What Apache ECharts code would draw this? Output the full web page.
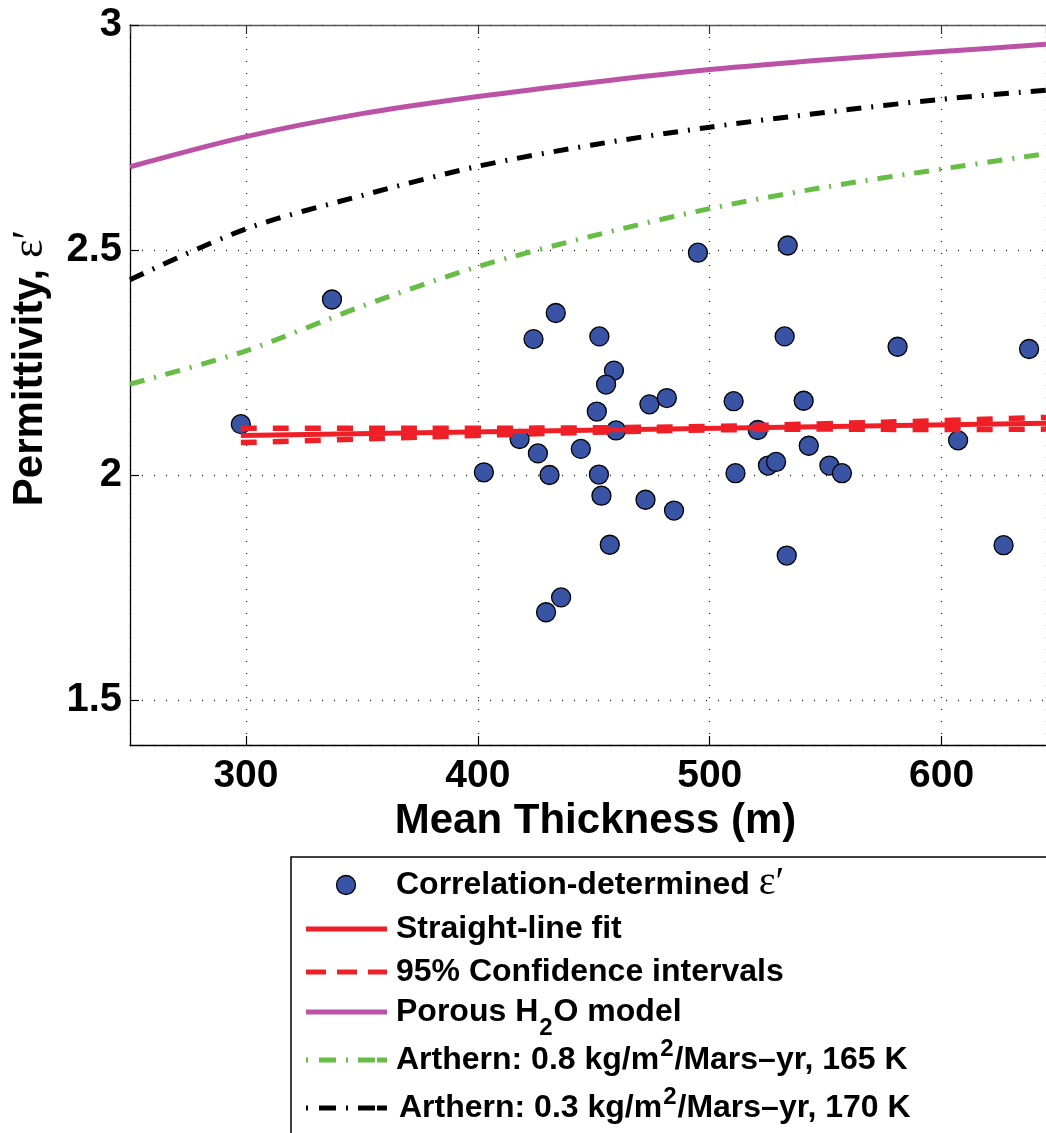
<!DOCTYPE html>
<html>
<head>
<meta charset="utf-8">
<script src="https://cdn.jsdelivr.net/npm/echarts@6/dist/echarts.min.js"></script>
<style>
html,body{margin:0;padding:0;background:#fff;}
#chart{width:1046px;height:1133px;}
</style>
</head>
<body>
<div id="chart"></div>
<script>
// ---- data ----
const thickness = [297.8, 337.1, 402.6, 424.0, 433.6, 452.4, 458.7, 455.3, 451.3, 474.0,
  481.5, 510.3, 540.5, 532.3, 494.9, 533.6, 581.0, 637.7, 459.6, 520.7,
  542.7, 607.1, 418.0, 425.9, 444.4, 430.9, 452.2, 453.3, 472.3, 484.6,
  511.1, 525.1, 528.6, 551.6, 557.0, 456.9, 533.2, 626.7, 435.9, 429.4];
const permittivity = [2.113, 2.390, 2.006, 2.302, 2.360, 2.308, 2.232, 2.201, 2.141, 2.157,
  2.171, 2.164, 2.165, 2.308, 2.494, 2.510, 2.285, 2.280, 2.099, 2.100,
  2.065, 2.077, 2.080, 2.048, 2.058, 2.000, 2.001, 1.954, 1.945, 1.921,
  2.004, 2.021, 2.029, 2.021, 2.004, 1.845, 1.821, 1.844, 1.728, 1.695];

const fitX = [297.8, 645];
const fitY = [2.088, 2.115];

const ciX = [297.8, 350, 400, 450, 500, 550, 600, 645];
const ciUpper = [2.104, 2.104, 2.104, 2.105, 2.108, 2.114, 2.121, 2.128];
const ciLower = [2.072, 2.080, 2.088, 2.095, 2.100, 2.102, 2.101, 2.102];

const modelX = [250, 300, 350, 400, 450, 500, 550, 600, 645];
const porousY = [2.685, 2.752, 2.803, 2.841, 2.873, 2.901, 2.923, 2.941, 2.957];
const arthern08Y = [2.202, 2.276, 2.375, 2.463, 2.532, 2.592, 2.640, 2.680, 2.714];
const arthern03Y = [2.434, 2.547, 2.621, 2.686, 2.734, 2.773, 2.806, 2.835, 2.855];

const xTicks = [300, 400, 500, 600];
const yTicks = [1.5, 2, 2.5, 3];

const legendLabels = [
  ['Correlation-determined '],
  ['Straight-line fit'],
  ['95% Confidence intervals'],
  ['Porous H', '2', 'O model'],
  ['Arthern: 0.8 kg/m', '2', '/Mars\u2013yr, 165 K'],
  ['Arthern: 0.3 kg/m', '2', '/Mars\u2013yr, 170 K']
];

// ---- styling ----
const RED = '#ee1f26', PURPLE = '#bb52a6', GREEN = '#67bd45', BLUE = '#3a54a5';
const DASHDOT = [15, 10, 2, 10];
const SANS = 'Liberation Sans';

const zip = (xs, ys) => xs.map((x, i) => [x, ys[i]]);

const chart = echarts.init(document.getElementById('chart'), null, {renderer: 'canvas'});

// ---- legend built with graphic elements ----
const mctx = document.createElement('canvas').getContext('2d');
function tw(str, size, weight, family) {
  mctx.font = weight + ' ' + size + 'px "' + family + '"';
  return mctx.measureText(str).width;
}
const LX = 291, LY = 857;
const rowY = [885, 929, 972, 1012, 1060, 1108];
const textX = [396, 396, 396, 396, 396, 399];
const FS = 32;
const g = [];
g.push({type: 'rect', shape: {x: LX, y: LY, width: 900, height: 400},
  style: {fill: '#fff', stroke: '#000', lineWidth: 1.5}, z: 10});
function sample(i, color, dash, width) {
  g.push({type: 'line', shape: {x1: 306, y1: rowY[i], x2: 387, y2: rowY[i]},
    style: {stroke: color, lineWidth: width, lineDash: dash || null, lineCap: 'butt'}, z: 11});
}
g.push({type: 'circle', shape: {cx: 346, cy: rowY[0], r: 9.5},
  style: {fill: BLUE, stroke: '#000', lineWidth: 1.3}, z: 11});
sample(1, RED, null, 5);
sample(2, RED, [20, 11], 5);
sample(3, PURPLE, null, 5);
sample(4, GREEN, [2, 11, 17, 10, 2, 10, 17], 5);
sample(5, '#000', [2, 11, 17, 10, 2, 10, 17], 5);
function txt(str, x, y, size, weight, family) {
  g.push({type: 'text', x: x, y: y, z: 12,
    style: {text: str, fontSize: size, fontWeight: weight, fontFamily: family,
      fill: '#000', verticalAlign: 'middle', align: 'left'}});
}
legendLabels.forEach((parts, i) => {
  let x = textX[i];
  const y = rowY[i];
  txt(parts[0], x, y, FS, 'bold', SANS);
  x += tw(parts[0], FS, 'bold', SANS);
  if (i === 0) {
    txt('\u03b5\u2032', x, y - 2, 40, 'normal', 'Liberation Serif');
  }
  if (parts.length === 3) {
    const sub = (i === 3);
    txt(parts[1], x + 1, sub ? y + 16 : y - 11, 24, 'bold', SANS);
    x += tw(parts[1], 24, 'bold', SANS) + 2;
    txt(parts[2], x, y, FS, 'bold', SANS);
  }
});

const lineSeries = (name, data, color, width, dash, z, smooth) => ({
  name: name, type: 'line', data: data, showSymbol: false, symbol: 'none',
  smooth: smooth || false, z: z, silent: true,
  lineStyle: {color: color, width: width, type: dash || 'solid', cap: 'butt'}
});

const option = {
  animation: false,
  backgroundColor: '#fff',
  grid: {left: 129, right: 0, top: 25, bottom: 388, containLabel: false},
  xAxis: [{
    type: 'value', min: 250, max: 645, minInterval: 100, maxInterval: 100,
    name: 'Mean Thickness (m)', nameLocation: 'middle', nameGap: 49,
    nameTextStyle: {fontFamily: SANS, fontWeight: 'bold', fontSize: 42, color: '#000', padding: [0, 0, 0, 15]},
    axisLine: {show: true, onZero: false, lineStyle: {color: '#000', width: 1.3}},
    axisTick: {show: true, inside: true, length: 9, lineStyle: {color: '#000', width: 1.2}},
    axisLabel: {show: true, margin: 12, fontFamily: SANS, fontWeight: 'bold', fontSize: 39, color: '#000',
      showMinLabel: false, showMaxLabel: false,
      formatter: v => xTicks.indexOf(Math.round(v)) >= 0 ? String(Math.round(v)) : ''},
    splitLine: {show: true, lineStyle: {color: '#222', width: 1.3, type: [1, 11]}}
  }, {
    type: 'value', position: 'top', min: 250, max: 645, minInterval: 100, maxInterval: 100,
    axisLine: {show: true, onZero: false, lineStyle: {color: '#555', width: 1.3}},
    axisTick: {show: true, inside: true, length: 9, lineStyle: {color: '#333', width: 1.2}},
    axisLabel: {show: false}, splitLine: {show: false}
  }],
  yAxis: [{
    type: 'value', min: 1.4, max: 3, minInterval: 0.5, maxInterval: 0.5, splitNumber: 3,
    name: '{a|Permittivity,}{e| \u03b5\u2032}', nameLocation: 'middle', nameGap: 78, nameRotate: 90,
    nameTextStyle: {
      padding: [0, 0, 0, 34],
      rich: {
        a: {fontFamily: SANS, fontWeight: 'bold', fontSize: 42, color: '#000'},
        e: {fontFamily: 'Liberation Serif', fontWeight: 'normal', fontSize: 44, color: '#000'}
      }
    },
    axisLine: {show: true, onZero: false, lineStyle: {color: '#000', width: 1.3}},
    axisTick: {show: true, inside: true, length: 9, lineStyle: {color: '#000', width: 1.2}},
    axisLabel: {show: true, margin: 8, fontFamily: SANS, fontWeight: 'bold', fontSize: 40, color: '#000',
      showMinLabel: false,
      formatter: v => {
        const k = yTicks.findIndex(t => Math.abs(t - v) < 1e-6);
        return k >= 0 ? String(yTicks[k]) : '';
      }},
    splitLine: {show: true, lineStyle: {color: '#222', width: 1.3, type: [1, 11]}}
  }],
  series: [
    lineSeries('Porous H2O model', zip(modelX, porousY), PURPLE, 5, null, 3, 0.3),
    lineSeries('Arthern 0.3', zip(modelX, arthern03Y), '#000', 5, DASHDOT, 3, 0.3),
    lineSeries('Arthern 0.8', zip(modelX, arthern08Y), GREEN, 5, DASHDOT, 3, 0.3),
    {
      name: 'Correlation-determined', type: 'scatter', data: zip(thickness, permittivity),
      symbol: 'circle', symbolSize: 19, z: 4, silent: true,
      itemStyle: {color: BLUE, borderColor: '#000', borderWidth: 1.3, opacity: 1}
    },
    lineSeries('CI upper', zip(ciX, ciUpper), RED, 5.5, [16, 16], 5, 0.4),
    lineSeries('CI lower', zip(ciX, ciLower), RED, 5.5, [16, 16], 5, 0.4),
    lineSeries('Straight-line fit', zip(fitX, fitY), RED, 5, null, 6, false)
  ],
  graphic: g
};
chart.setOption(option);
</script>
</body>
</html>
